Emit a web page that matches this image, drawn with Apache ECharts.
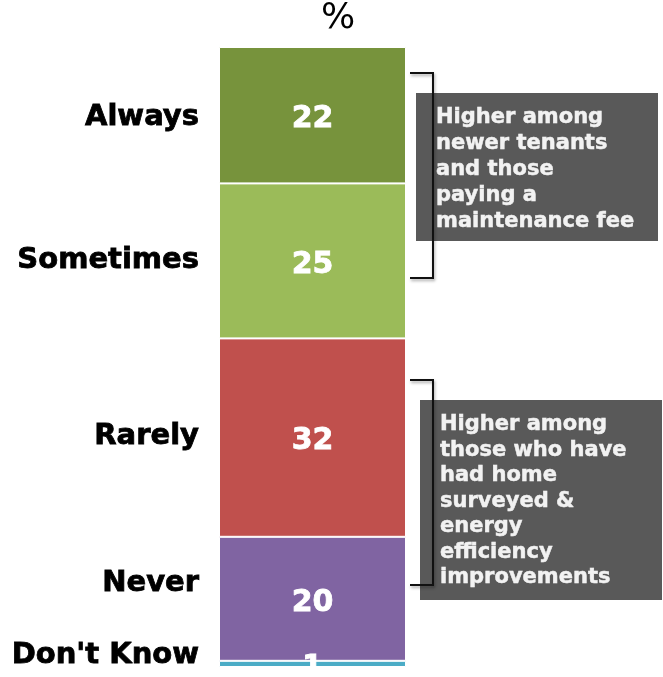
<!DOCTYPE html>
<html>
<head>
<meta charset="utf-8">
<script src="https://cdn.jsdelivr.net/npm/echarts@6/dist/echarts.min.js"></script>
<style>
  html, body { margin: 0; padding: 0; background: #ffffff; }
  #chart { width: 663px; height: 677px; }
</style>
</head>
<body>
<div id="chart"></div>
<script>
// Response categories, top to bottom of the stacked bar
const categories = ['Always', 'Sometimes', 'Rarely', 'Never', "Don't Know"];
// Share of respondents (%)
const values = [22, 25, 32, 20, 1];
const colors = ['#77933C', '#9BBB59', '#C0504D', '#8064A2', '#4BACC6'];
// Vertical nudge of each category name relative to its segment centre
const nameOffsets = [2, 0, -1, -15, -8];
// Callout notes beside the bar
const notes = [
  'Higher among\nnewer tenants\nand those\npaying a\nmaintenance fee',
  'Higher among\nthose who have\nhad home\nsurveyed &\nenergy\nefficiency\nimprovements'
];

const FONT = '"DejaVu Sans", Verdana, sans-serif';

const valueSeries = categories.map((name, i) => ({
  name: name,
  type: 'bar',
  stack: 'share',
  xAxisIndex: 0,
  barWidth: '100%',
  data: [values[i]],
  itemStyle: { color: colors[i], borderColor: '#ffffff', borderWidth: 1 },
  label: {
    show: true,
    position: 'inside',
    offset: [0, 4],
    color: '#ffffff',
    fontFamily: FONT,
    fontWeight: 'bold',
    fontSize: 30,
    textBorderColor: '#ffffff',
    textBorderWidth: 0.8
  },
  emphasis: { disabled: true },
  z: 2
}));

const nameSeries = categories.map((name, i) => ({
  name: name + ' label',
  type: 'bar',
  stack: 'names',
  xAxisIndex: 1,
  barWidth: '100%',
  data: [values[i]],
  itemStyle: { color: 'rgba(0,0,0,0)' },
  label: {
    show: true,
    position: 'left',
    distance: 20,
    offset: [0, nameOffsets[i]],
    formatter: name,
    color: '#000000',
    fontFamily: FONT,
    fontWeight: 'bold',
    fontSize: 29,
    textBorderColor: '#000000',
    textBorderWidth: 0.8
  },
  silent: true,
  emphasis: { disabled: true },
  z: 1
}));

function bracket(x0, x1, yTop, yBottom) {
  return {
    type: 'polyline',
    shape: { points: [[x0, yTop], [x1, yTop], [x1, yBottom], [x0, yBottom]] },
    style: {
      stroke: '#111111',
      lineWidth: 2,
      fill: null,
      shadowColor: 'rgba(0,0,0,0.35)',
      shadowBlur: 3,
      shadowOffsetX: 1,
      shadowOffsetY: 2
    },
    z: 5
  };
}

function noteBox(x, y, w, h, text, lineH) {
  return {
    type: 'group',
    z: 10,
    children: [
      {
        type: 'rect',
        shape: { x: x, y: y, width: w, height: h },
        style: { fill: '#595959' }
      },
      {
        type: 'text',
        x: x + 20,
        y: y + 12,
        style: {
          text: text,
          fill: '#f2f2f2',
          font: 'bold 21px ' + FONT,
          lineHeight: lineH,
          textVerticalAlign: 'top',
          stroke: '#f2f2f2',
          lineWidth: 0.5
        }
      }
    ]
  };
}

const chart = echarts.init(document.getElementById('chart'), null, { renderer: 'canvas' });
chart.setOption({
  animation: false,
  backgroundColor: '#ffffff',
  title: {
    text: '%',
    left: 333,
    top: -4,
    textAlign: 'center',
    textStyle: { fontFamily: FONT, fontWeight: 'normal', fontSize: 36, color: '#000000' }
  },
  grid: { left: 219, width: 187, top: 47, bottom: 10, containLabel: false },
  xAxis: [
    { type: 'category', data: ['%'], show: false },
    { type: 'category', data: ['%'], show: false }
  ],
  yAxis: { type: 'value', min: 0, max: 100, inverse: true, show: false },
  series: valueSeries.concat(nameSeries),
  graphic: [
    bracket(410, 433, 73, 278),
    bracket(410, 433, 380, 585),
    noteBox(416, 93, 242, 148, notes[0], 25.8),
    noteBox(420, 400, 242, 200, notes[1], 25.5)
  ]
});
</script>
</body>
</html>
